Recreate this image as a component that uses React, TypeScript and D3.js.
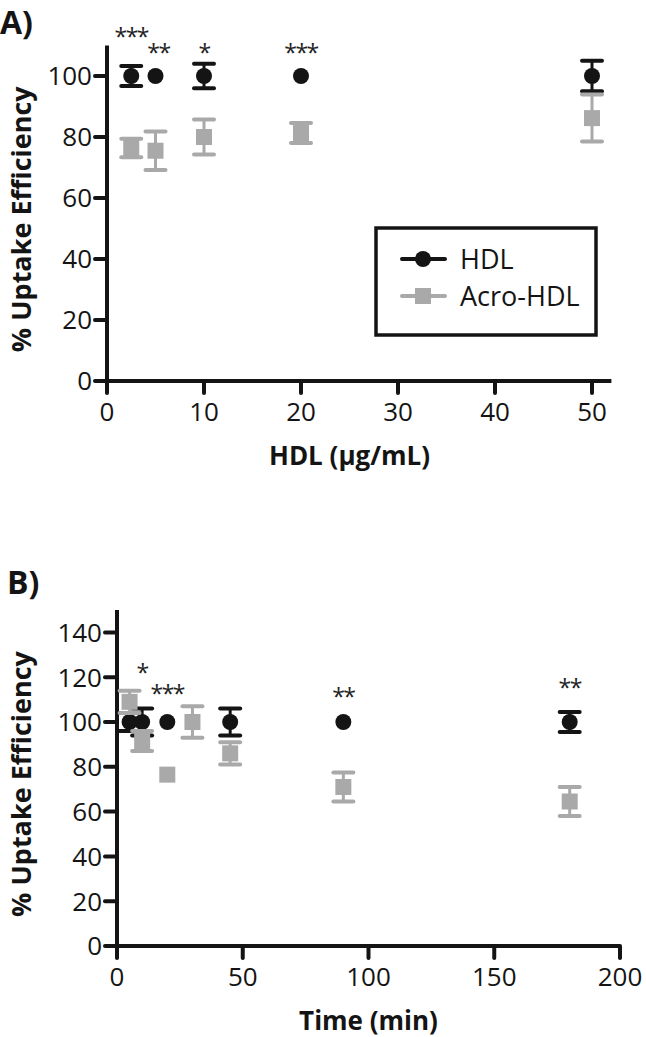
import { useRef, useEffect } from 'react';
import * as d3 from 'd3';

const W = 646;
const H = 1037;
const BLACK = '#141414';
const GRAY = '#a9a9a9';
const FONT = '"Open Sans", "DejaVu Sans", sans-serif';

// Panel A: concentration series
const concX = [2.5, 5, 10, 20, 50];
const concHDL = [100, 100, 100, 100, 100];
const concHDLErr = [3.3, 0, 4, 0, 5];
const concAcro = [76.4, 75.5, 80, 81.3, 86.2];
const concAcroErr = [3, 6.3, 5.7, 3.3, 7.7];
const concStarX = [2.5, 5.3, 10, 20];
const concStarY = [114.5, 109.2, 109.2, 109.2];
const concStars = ['***', '**', '*', '***'];
const concXTicks = [0, 10, 20, 30, 40, 50];
const concYTicks = [0, 20, 40, 60, 80, 100];

// Panel B: time series
const timeXHDL = [5, 10, 20, 45, 90, 180];
const timeHDL = [100, 100, 100, 100, 100, 100];
const timeHDLErr = [4, 6, 0, 6, 0, 4.5];
const timeXAcro = [5, 10, 20, 30, 45, 90, 180];
const timeAcro = [109, 91.5, 76.5, 100, 86, 71, 64.5];
const timeAcroErr = [5, 4.5, 0, 7, 5, 6.5, 6.5];
const timeStarX = [10, 20, 90, 180];
const timeStarY = [124, 114.7, 113.4, 117.4];
const timeStars = ['*', '***', '**', '**'];
const timeXTicks = [0, 50, 100, 150, 200];
const timeYTicks = [0, 20, 40, 60, 80, 100, 120, 140];

const legendNames = ['HDL', 'Acro-HDL'];

type Series = { xs: number[]; ys: number[]; err: number[]; color: string; shape: 'circle' | 'square' };

interface PanelCfg {
	letter: string;
	letterX: number;
	letterY: number;
	xDomain: [number, number];
	xRange: [number, number];
	xEnd: number;
	yDomain: [number, number];
	yRange: [number, number];
	xTicks: number[];
	yTicks: number[];
	xTitle: string;
	series: Series[];
	starX: number[];
	starY: number[];
	stars: string[];
}

function drawMarker(g: any, shape: string, cx: number, cy: number, color: string) {
	if (shape === 'circle') {
		g.append('circle').attr('cx', cx).attr('cy', cy).attr('r', 8).attr('fill', color);
	} else {
		g.append('rect').attr('x', cx - 8).attr('y', cy - 8).attr('width', 16).attr('height', 16).attr('fill', color);
	}
}

function drawPanel(svg: any, cfg: PanelCfg) {
	const x = d3.scaleLinear().domain(cfg.xDomain).range(cfg.xRange);
	const y = d3.scaleLinear().domain(cfg.yDomain).range(cfg.yRange);
	const x0 = x(cfg.xDomain[0]);
	const y0 = y(cfg.yDomain[0]);
	const tick = 12;

	const g = svg.append('g');

	// panel letter
	g.append('text')
		.attr('x', cfg.letterX)
		.attr('y', cfg.letterY)
		.attr('font-family', FONT)
		.attr('font-weight', 700)
		.attr('font-size', 32)
		.attr('fill', BLACK)
		.text(cfg.letter);

	// axes lines
	g.append('line')
		.attr('x1', x0 - tick).attr('x2', x(cfg.xEnd))
		.attr('y1', y0).attr('y2', y0)
		.attr('stroke', BLACK).attr('stroke-width', 4);
	g.append('line')
		.attr('x1', x0).attr('x2', x0)
		.attr('y1', y(cfg.yDomain[1])).attr('y2', y0 + tick)
		.attr('stroke', BLACK).attr('stroke-width', 4);

	cfg.xTicks.forEach(t => {
		g.append('line')
			.attr('x1', x(t)).attr('x2', x(t))
			.attr('y1', y0).attr('y2', y0 + tick)
			.attr('stroke', BLACK).attr('stroke-width', 4).attr('stroke-linecap', 'round');
		g.append('text')
			.attr('x', x(t)).attr('y', y0 + 40)
			.attr('text-anchor', 'middle')
			.attr('font-family', FONT).attr('font-size', 26).attr('fill', BLACK)
			.text(t);
	});
	cfg.yTicks.forEach(t => {
		g.append('line')
			.attr('x1', x0 - tick).attr('x2', x0)
			.attr('y1', y(t)).attr('y2', y(t))
			.attr('stroke', BLACK).attr('stroke-width', 4).attr('stroke-linecap', 'round');
		g.append('text')
			.attr('x', x0 - 15).attr('y', y(t))
			.attr('dy', '0.36em')
			.attr('text-anchor', 'end')
			.attr('font-family', FONT).attr('font-size', 26).attr('fill', BLACK)
			.text(t);
	});

	// titles
	const yMid = (y(cfg.yDomain[1]) + y0) / 2 + 6;
	g.append('text')
		.attr('transform', `translate(31, ${yMid}) rotate(-90)`)
		.attr('text-anchor', 'middle')
		.attr('font-family', FONT).attr('font-weight', 700).attr('font-size', 27).attr('fill', BLACK)
		.text('% Uptake Efficiency');
	g.append('text')
		.attr('x', (x0 + x(cfg.xDomain[1])) / 2).attr('y', y0 + 84)
		.attr('text-anchor', 'middle')
		.attr('font-family', FONT).attr('font-weight', 700).attr('font-size', 26).attr('fill', BLACK)
		.text(cfg.xTitle);

	// series: error bars, then markers
	cfg.series.forEach(s => {
		s.xs.forEach((xv, i) => {
			const cx = x(xv);
			if (s.err[i] > 0) {
				const top = y(s.ys[i] + s.err[i]);
				const bot = y(s.ys[i] - s.err[i]);
				g.append('line')
					.attr('x1', cx).attr('x2', cx).attr('y1', top).attr('y2', bot)
					.attr('stroke', s.color).attr('stroke-width', 3);
				[top, bot].forEach(cy => {
					g.append('line')
						.attr('x1', cx - 10).attr('x2', cx + 10).attr('y1', cy).attr('y2', cy)
						.attr('stroke', s.color).attr('stroke-width', 4).attr('stroke-linecap', 'round');
				});
			}
			drawMarker(g, s.shape, cx, y(s.ys[i]), s.color);
		});
	});

	// significance stars
	cfg.stars.forEach((st, i) => {
		g.append('text')
			.attr('x', x(cfg.starX[i])).attr('y', y(cfg.starY[i]) + 13)
			.attr('text-anchor', 'middle')
			.attr('font-family', FONT).attr('font-size', 23).attr('fill', '#222')
			.attr('letter-spacing', -1.5)
			.text(st);
	});

	return { x, y };
}

const App = () => {
	const ref = useRef<SVGSVGElement>(null);

	useEffect(() => {
		document.body.style.margin = '0';
		const svg = d3.select(ref.current);
		svg.selectAll('*').remove();

		svg.append('rect').attr('width', W).attr('height', H).attr('fill', '#fff');

		drawPanel(svg, {
			letter: 'A)', letterX: 0, letterY: 34,
			xDomain: [0, 50], xRange: [107, 592], xEnd: 52,
			yDomain: [0, 110], yRange: [381, 45.5],
			xTicks: concXTicks, yTicks: concYTicks,
			xTitle: 'HDL (µg/mL)',
			series: [
				{ xs: concX, ys: concHDL, err: concHDLErr, color: BLACK, shape: 'circle' },
				{ xs: concX, ys: concAcro, err: concAcroErr, color: GRAY, shape: 'square' },
			],
			starX: concStarX, starY: concStarY, stars: concStars,
		});

		drawPanel(svg, {
			letter: 'B)', letterX: 7, letterY: 594,
			xDomain: [0, 200], xRange: [117, 620], xEnd: 200,
			yDomain: [0, 150], yRange: [946, 610],
			xTicks: timeXTicks, yTicks: timeYTicks,
			xTitle: 'Time (min)',
			series: [
				{ xs: timeXHDL, ys: timeHDL, err: timeHDLErr, color: BLACK, shape: 'circle' },
				{ xs: timeXAcro, ys: timeAcro, err: timeAcroErr, color: GRAY, shape: 'square' },
			],
			starX: timeStarX, starY: timeStarY, stars: timeStars,
		});

		// legend in panel A
		const lg = svg.append('g');
		lg.append('rect')
			.attr('x', 376).attr('y', 228).attr('width', 220).attr('height', 107)
			.attr('fill', 'none').attr('stroke', BLACK).attr('stroke-width', 3.5);
		const colors = [BLACK, GRAY];
		const shapes = ['circle', 'square'];
		legendNames.forEach((name, i) => {
			const ly = 259 + i * 37;
			lg.append('line')
				.attr('x1', 402).attr('x2', 445).attr('y1', ly).attr('y2', ly)
				.attr('stroke', colors[i]).attr('stroke-width', 4).attr('stroke-linecap', 'round');
			drawMarker(lg, shapes[i], 423, ly, colors[i]);
			lg.append('text')
				.attr('x', 460).attr('y', ly).attr('dy', '0.36em')
				.attr('font-family', FONT).attr('font-size', 27).attr('fill', BLACK)
				.text(name);
		});
	}, []);

	return <svg ref={ref} width={W} height={H} style={{ display: 'block' }} />;
};

export default App;
